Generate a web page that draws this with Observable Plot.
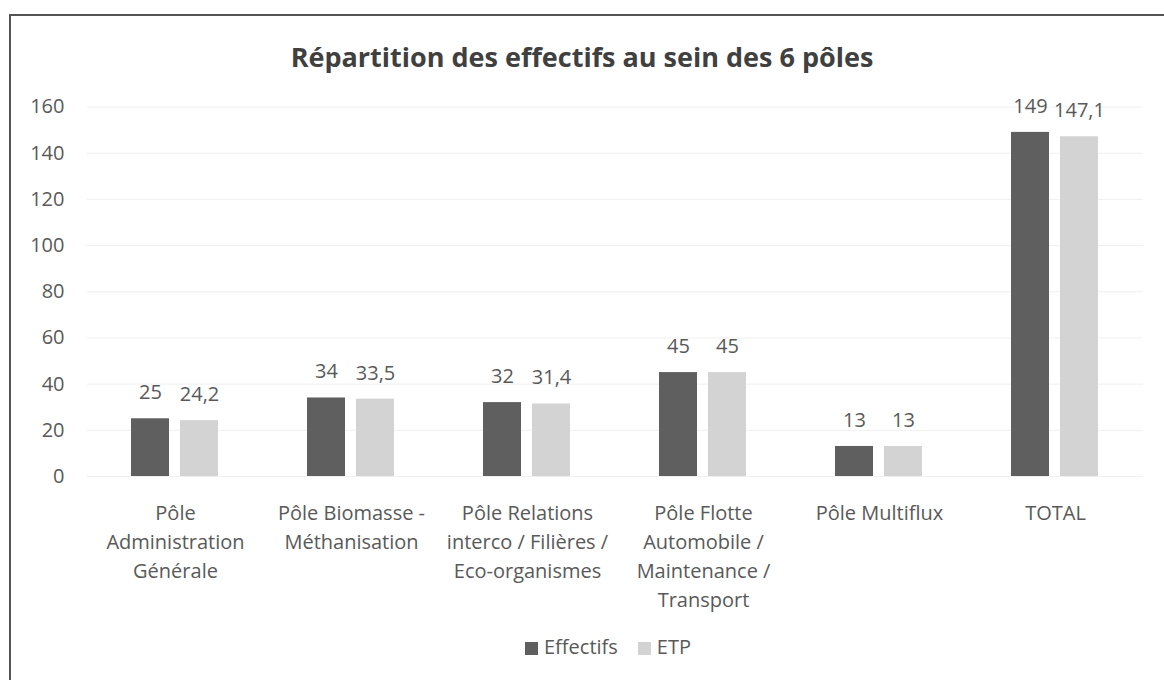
<!DOCTYPE html>
<html><head><meta charset="utf-8">
<script src="https://cdn.jsdelivr.net/npm/d3@7"></script>
<script src="https://cdn.jsdelivr.net/npm/@observablehq/plot@0.6"></script>
<style>
body{margin:0;background:#fff;width:1164px;height:680px;overflow:hidden;position:relative;font-family:"Open Sans",sans-serif;color:#595959}
#frame{position:absolute;left:9px;top:14px;width:1200px;height:700px;border-left:2px solid #555;border-top:2px solid #555}
#title{position:absolute;top:38px;left:0;width:1164px;text-align:center;font-weight:bold;font-size:27px;color:#404040}
#chart{position:absolute;left:0;top:80px}
#legend{position:absolute;top:633px;left:26px;width:1164px;text-align:center;font-size:20px;white-space:nowrap}
#legend .item{display:inline-block;margin:0 10px}
#legend .sw{display:inline-block;width:13px;height:13px;margin-right:6px;vertical-align:-1px}
</style>
</head><body>
<div id="frame"></div>
<div id="title">Répartition des effectifs au sein des 6 pôles</div>
<div id="chart"></div>
<div id="legend"></div>
<script>
const categories = ["Pôle Administration Générale","Pôle Biomasse - Méthanisation","Pôle Relations interco / Filières / Eco-organismes","Pôle Flotte Automobile / Maintenance / Transport","Pôle Multiflux","TOTAL"];
const categoryLabels = ["Pôle\nAdministration\nGénérale","Pôle Biomasse -\nMéthanisation","Pôle Relations\ninterco / Filières /\nEco-organismes","Pôle Flotte\nAutomobile /\nMaintenance /\nTransport","Pôle Multiflux","TOTAL"];
const series = ["Effectifs","ETP"];
const effectifs = [25, 34, 32, 45, 13, 149];
const etp = [24.2, 33.5, 31.4, 45, 13, 147.1];
const yTicks = [0, 20, 40, 60, 80, 100, 120, 140, 160];
const colors = ["#5f5f5f", "#d3d3d3"];

const data = categories.flatMap((c, i) => [
  {cat: c, serie: series[0], v: effectifs[i]},
  {cat: c, serie: series[1], v: etp[i]}
]);
const fmt = v => String(v).replace(".", ",");

const chart = Plot.plot({
  width: 1164, height: 560,
  marginTop: 26.5, marginBottom: 164, marginLeft: 85, marginRight: 19,
  style: {fontFamily: "Open Sans", fontSize: "20px", color: "#595959", background: "transparent", overflow: "visible"},
  fx: {domain: categories, padding: 0, axis: null, label: null},
  x: {domain: series, paddingInner: 0.22, paddingOuter: 0.877, axis: null, label: null},
  y: {domain: [0, 160], axis: null, label: null},
  color: {domain: series, range: colors},
  marks: [
    Plot.gridY(yTicks, {stroke: "#f0f0f0", strokeOpacity: 1}),
    Plot.axisY(yTicks, {tickSize: 0, tickPadding: 23, fontSize: 20, label: null}),
    Plot.axisFx({anchor: "bottom", tickSize: 0, tickPadding: 23, fontSize: 20, lineHeight: 1.45, label: null,
      tickFormat: d => categoryLabels[categories.indexOf(d)]}),
    Plot.barY(data, {fx: "cat", x: "serie", y: "v", fill: "serie"}),
    Plot.text(data, {fx: "cat", x: "serie", y: "v", text: d => fmt(d.v), dy: -26, fontSize: 20, fill: "#595959"})
  ]
});
document.getElementById("chart").appendChild(chart);

const legend = document.getElementById("legend");
series.forEach((s, i) => {
  const item = document.createElement("span");
  item.className = "item";
  const sw = document.createElement("span");
  sw.className = "sw";
  sw.style.background = colors[i];
  item.appendChild(sw);
  item.appendChild(document.createTextNode(s));
  legend.appendChild(item);
});
</script>
</body></html>
